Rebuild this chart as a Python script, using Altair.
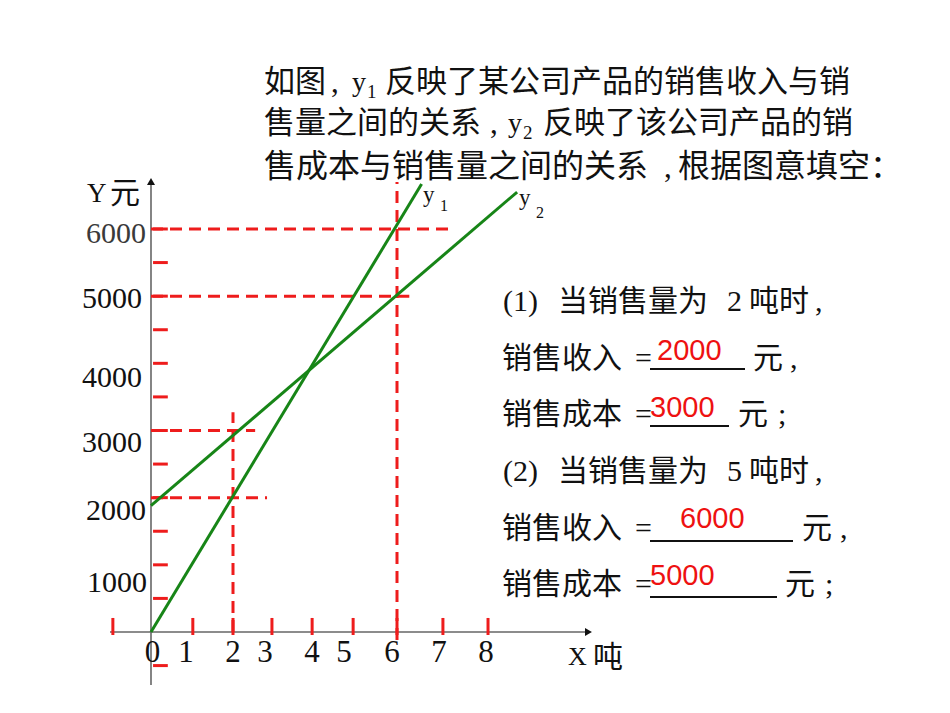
import altair as alt
import pandas as pd

# ---------------- data ----------------
# green lines (sales quantity in tonnes, money in yuan)
y1_x = [0, 6.6]
y1_y = [0, 6670]
y2_x = [0, 8.93]
y2_y = [1880, 6550]

# red dashed guide segments
guide_x1 = [0, 0, 0, 0, 2, 6]
guide_x2 = [7.3, 6.3, 2.54, 2.83, 2, 6]
guide_y1 = [6000, 5000, 3000, 2000, 0, -120]
guide_y2 = [6000, 5000, 3000, 2000, 3270, 6700]

# red tick marks
y_tick_values = [-500, 500, 1000, 1500, 2000, 2500, 3000, 3500, 4000, 4500, 5000, 5500, 6000]
x_tick_values = [-0.93, 1.02, 2, 2.95, 3.93, 4.93, 6, 7.12, 8.22]

# tick labels
y_tick_labels = ["6000", "5000", "4000", "3000", "2000", "1000"]
x_tick_labels = ["0", "1", "2", "3", "4", "5", "6", "7", "8"]

# answers filled in
answer_labels = ["2000", "3000", "6000", "5000"]

# ---------------- layout (pixels on the 950x713 page) ----------------
W, H, M = 934, 697, 8
ORIGIN_PX = (151, 632)
PX_PER_X = 41.0
PX_PER_Y = 0.06717

x_min = -(ORIGIN_PX[0] - M) / PX_PER_X
x_max = x_min + W / PX_PER_X
y_max = (ORIGIN_PX[1] - M) / PX_PER_Y
y_min = y_max - H / PX_PER_Y

xs = alt.Scale(domain=[x_min, x_max], nice=False, zero=False)
ys = alt.Scale(domain=[y_min, y_max], nice=False, zero=False)

RED = "#ee1c1c"
GREEN = "#178517"
AXIS = "#666666"
FONT = "Liberation Serif, Noto Sans CJK SC"


def seg_layer(df, **mark):
    return alt.Chart(df).mark_rule(**mark).encode(
        x=alt.X("x1:Q", scale=xs, axis=None),
        x2="x2:Q",
        y=alt.Y("y1:Q", scale=ys, axis=None),
        y2="y2:Q",
    )


# axes
axes_df = pd.DataFrame({"x1": [-1.0, 0], "x2": [10.6, 0], "y1": [0, -789], "y2": [0, 6700]})
axes = seg_layer(axes_df, color=AXIS, strokeWidth=1.6)

arrow_up = alt.Chart(pd.DataFrame({"x": [0], "y": [6707]})).mark_point(
    shape="triangle-up", filled=True, color="#111111", size=64, opacity=1
).encode(x=alt.X("x:Q", scale=xs, axis=None), y=alt.Y("y:Q", scale=ys, axis=None))
arrow_right = alt.Chart(pd.DataFrame({"x": [10.67], "y": [0]})).mark_point(
    shape="triangle-right", filled=True, color="#111111", size=64, opacity=1
).encode(x=alt.X("x:Q", scale=xs, axis=None), y=alt.Y("y:Q", scale=ys, axis=None))

# red ticks
ytick_df = pd.DataFrame({"x1": [0.05] * len(y_tick_values), "x2": [0.41] * len(y_tick_values),
                         "y1": y_tick_values, "y2": y_tick_values})
xtick_df = pd.DataFrame({"x1": x_tick_values, "x2": x_tick_values,
                         "y1": [-45] * len(x_tick_values), "y2": [209] * len(x_tick_values)})
yticks = seg_layer(ytick_df, color=RED, strokeWidth=3)
xticks = seg_layer(xtick_df, color=RED, strokeWidth=3)

# dashed guides
guide_df = pd.DataFrame({"x1": guide_x1, "x2": guide_x2, "y1": guide_y1, "y2": guide_y2})
guides = seg_layer(guide_df, color=RED, strokeWidth=3, strokeDash=[12, 7])

# green lines
lines_df = pd.DataFrame({"x": y1_x + y2_x, "y": y1_y + y2_y, "s": ["y1"] * 2 + ["y2"] * 2})
lines = alt.Chart(lines_df).mark_line(color=GREEN, strokeWidth=3).encode(
    x=alt.X("x:Q", scale=xs, axis=None),
    y=alt.Y("y:Q", scale=ys, axis=None),
    detail="s:N",
)

# ---------------- text annotations (page pixel positions) ----------------
t = []  # (text, left px, baseline px, font size)
# paragraph
t += [("如图", 264, 92, 31), (",", 331, 92, 31), ("y", 352, 91, 28), ("1", 367, 98, 19),
      ("反映了某公司产品的销售收入与销", 385, 92, 31)]
t += [("售量之间的关系", 264, 133, 31), (",", 490, 133, 31), ("y", 508, 132, 28), ("2", 523, 139, 19),
      ("反映了该公司产品的销", 543, 133, 31)]
t += [("售成本与销售量之间的关系", 264, 177, 32), (",", 664, 177, 31), ("根据图意填空：", 678, 177, 32)]
# right block
t += [("(1)", 503, 311, 30), ("当销售量为", 558, 311, 30), ("2", 727, 311, 30), ("吨时", 749, 311, 30),
      (",", 815, 311, 30)]
t += [("销售收入", 502, 368, 30), ("=", 635, 368, 30), ("元", 753, 368, 30), (",", 790, 368, 30)]
t += [("销售成本", 502, 424, 30), ("=", 635, 424, 30), ("元", 738, 424, 30), (";", 778, 424, 30)]
t += [("(2)", 503, 481, 30), ("当销售量为", 558, 481, 30), ("5", 727, 481, 30), ("吨时", 749, 481, 30),
      (",", 815, 481, 30)]
t += [("销售收入", 502, 538, 30), ("=", 635, 538, 30), ("元", 802, 538, 30), (",", 840, 538, 30)]
t += [("销售成本", 502, 594, 30), ("=", 635, 594, 30), ("元", 785, 594, 30), (";", 825, 594, 30)]
# axis titles
t += [("Y", 87, 202, 27), ("元", 110, 203, 30), ("X", 568, 665, 26), ("吨", 593, 667, 30)]
# line labels
t += [("y", 423, 202, 23), ("1", 440, 211, 16), ("y", 519, 205, 23), ("2", 536, 218, 16)]
# y tick labels
y_lab_left = [86, 82, 82, 82, 86, 87]
y_lab_base = [243, 308, 387, 452, 520, 592]
for lab, lx, by in zip(y_tick_labels, y_lab_left, y_lab_base):
    t.append((lab, lx, by, 30))

text_df = pd.DataFrame(t, columns=["text", "px", "py", "fs"])
text_df["px"] = text_df["px"] - M
text_df["py"] = text_df["py"] - M
text_df["col"] = ["#3a3a3a" if s == "6000" else "#111111" for s in text_df["text"]]

texts = alt.Chart(text_df).mark_text(align="left", baseline="alphabetic", font=FONT).encode(
    x=alt.X("px:Q", scale=None, axis=None),
    y=alt.Y("py:Q", scale=None, axis=None),
    text="text:N",
    size=alt.Size("fs:Q", scale=None, legend=None),
    color=alt.Color("col:N", scale=None, legend=None),
)

# x tick labels (centered)
x_lab_center = [152.5, 186, 233, 265, 312, 344, 392, 439, 486]
xlab_df = pd.DataFrame({"text": x_tick_labels, "px": [c - M for c in x_lab_center],
                        "py": [662 - M] * len(x_tick_labels)})
xlabels = alt.Chart(xlab_df).mark_text(align="center", baseline="alphabetic", font=FONT,
                                       fontSize=31, color="#111111").encode(
    x=alt.X("px:Q", scale=None, axis=None),
    y=alt.Y("py:Q", scale=None, axis=None),
    text="text:N",
)

# red answers
ans_df = pd.DataFrame({"text": answer_labels,
                       "px": [p - M for p in [657, 650, 680, 650]],
                       "py": [p - M for p in [360, 417, 528, 585]]})
answers = alt.Chart(ans_df).mark_text(align="left", baseline="alphabetic", font="Liberation Sans",
                                      fontSize=29, color="#ee1111").encode(
    x=alt.X("px:Q", scale=None, axis=None),
    y=alt.Y("py:Q", scale=None, axis=None),
    text="text:N",
)

# underlines (blanks)
ul_df = pd.DataFrame({"x1": [650, 650, 650, 650], "x2": [745, 729, 793, 777],
                      "y": [369, 426, 541, 597]})
ul_df = ul_df - M
underlines = alt.Chart(ul_df).mark_rule(color="#111111", strokeWidth=2).encode(
    x=alt.X("x1:Q", scale=None, axis=None),
    x2="x2:Q",
    y=alt.Y("y:Q", scale=None, axis=None),
)

chart = alt.layer(
    axes, xticks, yticks, guides, lines, arrow_up, arrow_right,
    underlines, texts, xlabels, answers,
).resolve_scale(x="independent", y="independent").properties(
    width=W, height=H, padding=0, autosize=alt.AutoSizeParams(type="none"), background="white"
).configure_view(stroke=None)

chart.save("out.html", embed_options={"renderer": "svg", "actions": False})
